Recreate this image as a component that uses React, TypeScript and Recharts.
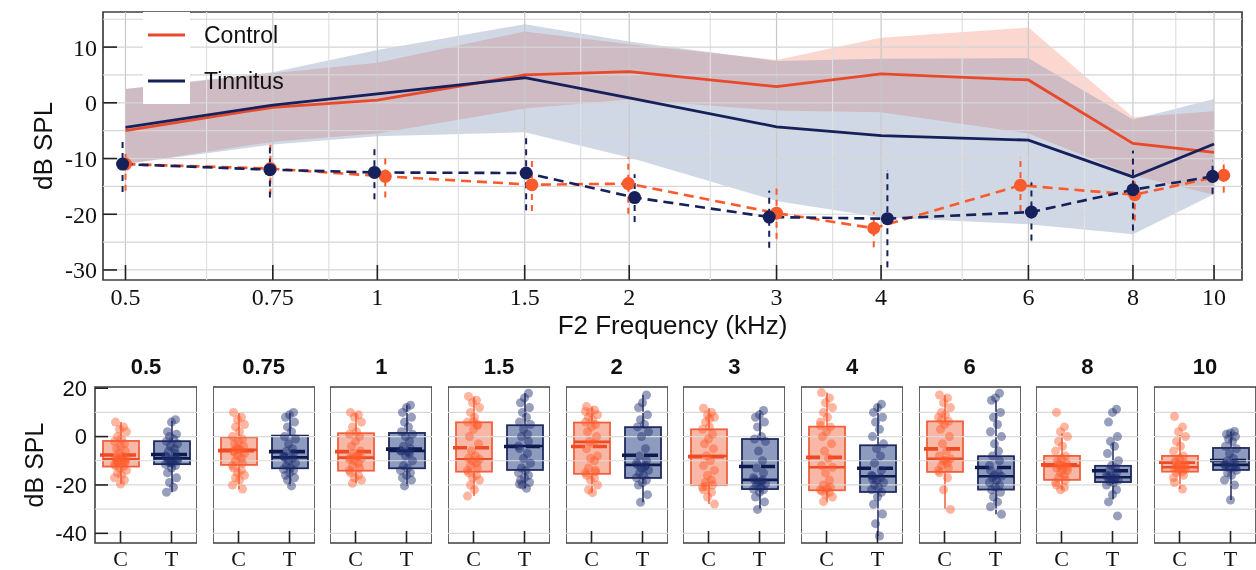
import React from 'react';
import {
  ComposedChart, Line, Area, Bar, Scatter, XAxis, YAxis, ReferenceLine, ReferenceArea, ErrorBar, Legend,
} from 'recharts';

// ---- top panel data ----
const FREQS = [0.5, 0.75, 1, 1.5, 2, 3, 4, 6, 8, 10];
const MINOR_FREQS = [0.625, 0.875, 1.25, 1.75, 2.5, 3.5, 5, 7, 9];
const TOP_GRID_Y = [15, 10, 5, 0, -5, -10, -15, -20, -25, -30];

const CTRL_MEAN = [-5, -0.8, 0.5, 5, 5.6, 2.9, 5.2, 4.1, -7.3, -8.9];
const TIN_MEAN = [-4.4, -0.4, 1.6, 4.5, 0.9, -4.3, -5.9, -6.7, -13.3, -7.4];
const CTRL_HI = [2.5, 5.3, 7.2, 12.8, 10.5, 7.7, 11.7, 13.5, -2.6, -1.5];
const CTRL_LO = [-11, -7, -5.5, -1, 0.6, -1.4, -1.7, -5.5, -13, -16.5];
const TIN_HI = [2.5, 5.5, 9.5, 14.1, 11, 7.5, 7.9, 8, -3, 0.7];
const TIN_LO = [-11, -7.5, -6, -5.3, -9.8, -17.6, -20.6, -21.8, -23.6, -16.4];

// dashed series (plotted slightly off the nominal frequency)
const CTRL_FLOOR_X = [0.5, 0.745, 1.022, 1.53, 1.995, 3.0, 3.92, 5.87, 8.04, 10.27];
const CTRL_FLOOR = [-11, -11.8, -13.2, -14.7, -14.5, -19.8, -22.5, -14.8, -16.5, -13];
const CTRL_FLOOR_LO = [-15.8, -16.5, -17, -19.4, -19.9, -24.4, -25.9, -19.4, -21.1, -16.1];
const CTRL_FLOOR_HI = [-9.2, -6.8, -9.8, -10.4, -9.8, -15.2, -19.6, -9.8, -14, -10.4];
const TIN_FLOOR_X = [0.496, 0.744, 0.992, 1.506, 2.03, 2.94, 4.07, 6.05, 8.0, 9.96];
const TIN_FLOOR = [-11, -12, -12.5, -12.6, -17, -20.5, -20.8, -19.6, -15.6, -13.2];
const TIN_FLOOR_LO = [-16, -17, -17.3, -19.3, -21.4, -26, -29.5, -24.7, -22.9, -16.3];
const TIN_FLOOR_HI = [-6.2, -7.1, -8, -6.2, -12.8, -15.8, -12.2, -14.3, -8.6, -10.4];

const SERIES = ['Control', 'Tinnitus'];

// ---- bottom panels data ----
const PANEL_TITLES = ['0.5', '0.75', '1', '1.5', '2', '3', '4', '6', '8', '10'];
const GROUPS = ['C', 'T'];

const C_Q1 = [-12.4, -11.7, -14.1, -14.5, -15.4, -20.1, -22.2, -14.6, -17.9, -14.5];
const C_MED = [-9.4, -5.5, -8.7, -9.4, -2.2, -8, -12.7, -9.2, -12.1, -12.7];
const C_Q3 = [-1.8, -0.3, 1.4, 5.9, 5.8, 3, 4.1, 6.3, -8, -8];
const C_MEAN = [-7.6, -5.8, -6.2, -4.6, -4.1, -8.3, -8.6, -5.1, -11.7, -10.6];
const C_WLO = [-19.6, -21.7, -19.3, -24.6, -23.2, -27.9, -26.9, -30.1, -22, -21.7];
const C_WHI = [6, 10, 10, 16.6, 12.4, 11.7, 18.2, 17.2, 1.4, 0.7];

const T_Q1 = [-11.4, -13.1, -13.1, -13.8, -17.1, -21.7, -22.9, -21.9, -18.8, -13.8];
const T_MED = [-9, -8.6, -5.9, -3.9, -11.7, -17.9, -16.4, -16.4, -16.8, -11.7];
const T_Q3 = [-1.9, 0.4, 1.5, 4.7, 3.9, -1, -3.6, -8.1, -12.1, -4.7];
const T_MEAN = [-7.4, -6.2, -5.2, -4.1, -7.7, -12.4, -13.1, -12.8, -14.1, -9.9];
const T_WLO = [-23, -20.4, -20.4, -21.4, -27.2, -30.1, -41.1, -32.1, -26, -26.2];
const T_WHI = [6.5, 10, 13, 17.9, 17.2, 10.8, 13.4, 15, -2.8, 2.1];

const C_POINTS = [
  [6, 4, 3, 2, 0, -1, -2, -3, -4, -5, -6, -7, -8, -8.5, -9, -9.4, -10, -10.5, -11, -11.5, -12, -12.5, -13, -14, -15, -16, -17, -18, -19.6, -9.8, -10.2, -8.8],
  [10, 8, 7, 5, 4, 2, 0, -1, -2, -3, -4, -5, -5.5, -6, -7, -8, -9, -10, -11, -12, -13, -14, -15, -16, -17, -18, -20, -21.7, -5.2, -6.4],
  [10, 9, 8, 6, 4, 2, 1, 0, -2, -4, -6, -7, -8, -8.7, -9, -10, -11, -12, -13, -14, -15, -16, -17, -18, -19.3, -8.2, -9.4],
  [16.6, 15, 14, 12, 10, 8, 6, 5, 3, 0, -3, -6, -8, -9, -9.4, -10, -11, -12, -13, -14, -15, -16, -17, -18, -20, -22, -24.6, 4.6, 6.2],
  [12.4, 11, 10, 9, 8, 7, 6, 5, 4, 2, 0, -2, -3, -5, -8, -9, -10, -13, -14, -15, -16, -17, -18, -20, -22, -23.2, 10.4, -14.6],
  [11.7, 10, 9, 8, 6, 4, 3, 1, -1, -3, -5, -8, -10, -12, -14, -16, -18, -19, -20, -21, -22, -23, -25, -27.9, -20.6, 7.4],
  [18.2, 16, 14, 12, 10, 8, 6, 4, 2, 0, -3, -6, -9, -12, -12.7, -15, -18, -20, -21, -22, -22.5, -23, -24, -25, -26.9, -21.4, 4.6],
  [17.2, 16, 14, 12, 10, 9, 8, 6.3, 5, 3, 0, -3, -6, -8, -9.2, -10, -11, -12, -13, -14, -15, -17, -22, -30.1, 6.8, -9.8],
  [10, 4, 2, 0, -2, -4, -6, -8, -9, -10, -11, -12, -12.1, -13, -14, -15, -16, -17, -18, -19, -20, -21, -22, -12.6, -11.4, -13.6],
  [8.3, 4, 2, 0, -2, -4, -6, -8, -9, -10, -11, -12, -12.7, -13, -13.5, -14, -14.5, -15, -16, -17, -19, -21.7, -11.6, -12.2, -10.6],
];
const T_POINTS = [
  [7, 6, 2, 1, 0, -1, -2, -3, -4, -5, -6, -7, -8, -8.5, -9, -9.5, -10, -10.5, -11, -11.5, -12, -13, -15, -17, -19, -21, -23, -9.2, -10.8],
  [10, 9, 8, 6, 4, 2, 0, -1, -3, -5, -6, -7, -8, -8.6, -9, -10, -11, -12, -13, -13.5, -14, -15, -16, -17, -18, -20.4, -8.2],
  [13, 12, 10, 8, 6, 4, 2, 1, 0, -2, -4, -5, -5.9, -6, -7, -8, -10, -12, -13, -14, -15, -16, -17, -18, -20.4, -6.4],
  [17.9, 16, 14, 12, 10, 8, 6, 5, 3, 1, 0, -2, -3.9, -5, -7, -9, -11, -13, -14, -15, -16, -17, -18, -19, -20, -21.4, -19.6],
  [17.2, 14, 12, 9, 7, 5, 4, 2, 0, -5, -8, -10, -11, -11.7, -12, -13, -14, -15, -16, -17, -18, -19, -20, -24, -27.2, -12.6],
  [10.8, 9, 8, 6, 4, 0, -1, -2, -6, -10, -13, -15, -17, -17.9, -18, -19, -19.5, -20, -21, -21.7, -22, -23, -25, -27, -30.1, -18.6],
  [13.4, 12, 10, 8, 6, 3, 0, -3, -5, -8, -11, -14, -16, -16.4, -17, -18, -19, -20, -21, -22, -23, -25, -28, -32, -36, -41.1, -17.6],
  [17.9, 16, 15, 10, 8, 5, 2, 0, -3, -6, -8, -10, -12, -14, -15, -16, -16.4, -17, -18, -19, -20, -21, -22, -23, -25, -27, -29, -32.1],
  [11.3, 10, 6, 0, -2, -4, -7, -10, -12, -13, -14, -15, -16, -16.8, -17, -17.5, -18, -18.5, -19, -20, -22, -24, -27, -32.8, -16.2, -17.8],
  [2.1, 1.5, 1, 0, -1, -2, -4, -5, -7, -9, -10, -11, -11.7, -12, -12.5, -13, -14, -15, -16, -18, -20, -26.2, -11.2, -12.8],
];

const PANEL_GRID_Y = [10, 0, -10, -20, -30, -40];

// ---- styles ----
const RED = '#e8492b';
const RED_DOT = '#fb5a2c';
const NAVY = '#16205a';
const SANS = 'Liberation Sans, Arial, sans-serif';
const SERIF = 'Liberation Serif, Times New Roman, serif';
const JITTER = [-5, 3, -1, 6, -3, 1, -6, 4, 0, -4, 5, -2, 2, -5, 6, -1, 3, -3, 4, -6];
const GROUP_STYLE: Record<string, any> = {
  C: { fill: '#f9b7a6', stroke: '#f0603e', line: '#ee4a24', dot: '#ff5a2a' },
  T: { fill: '#8d9bbf', stroke: '#1f2a5e', line: '#0e1a4e', dot: '#1b2a6b' },
};

const topData = FREQS.map((f, i) => ({
  f,
  ctrl: CTRL_MEAN[i],
  tin: TIN_MEAN[i],
  ctrlBand: [CTRL_LO[i], CTRL_HI[i]],
  tinBand: [TIN_LO[i], TIN_HI[i]],
}));
const ctrlFloor = CTRL_FLOOR_X.map((f, i) => ({
  f, v: CTRL_FLOOR[i], err: [CTRL_FLOOR[i] - CTRL_FLOOR_LO[i], CTRL_FLOOR_HI[i] - CTRL_FLOOR[i]],
}));
const tinFloor = TIN_FLOOR_X.map((f, i) => ({
  f, v: TIN_FLOOR[i], err: [TIN_FLOOR[i] - TIN_FLOOR_LO[i], TIN_FLOOR_HI[i] - TIN_FLOOR[i]],
}));

function TopLegend() {
  return (
    <div style={{ position: 'relative', width: 180, height: 92 }}>
      <div style={{ position: 'absolute', left: 0, top: 0, width: 47, height: 92, background: '#fff' }} />
      {SERIES.map((name, i) => (
        <div key={name} style={{ position: 'absolute', left: 0, top: 23 + i * 46 - 14, height: 28, display: 'flex', alignItems: 'center' }}>
          <svg width={47} height={28}>
            <line x1={5} x2={42} y1={14} y2={14} stroke={i === 0 ? RED : NAVY} strokeWidth={3} />
          </svg>
          <span style={{ marginLeft: 14, fontFamily: SANS, fontSize: 23, color: '#111' }}>{name}</span>
        </div>
      ))}
    </div>
  );
}

function TopChart() {
  return (
    <ComposedChart width={1256} height={345} data={topData} margin={{ top: 12, right: 14, bottom: 0, left: 0 }}>
      {MINOR_FREQS.map((v) => (
        <ReferenceLine key={'vm' + v} x={v} stroke="#e0e0e0" strokeWidth={1.2} />
      ))}
      {FREQS.map((v) => (
        <ReferenceLine key={'vM' + v} x={v} stroke="#c8c8c8" strokeWidth={1.2} />
      ))}
      {TOP_GRID_Y.map((v) => (
        <ReferenceLine key={'h' + v} y={v} stroke="#d6d6d6" strokeWidth={1.2} />
      ))}
      <XAxis
        dataKey="f" type="number" scale="log" domain={[0.47, 10.8]} allowDataOverflow ticks={FREQS}
        height={65} axisLine={false} tickSize={-15} tickMargin={23}
        tickLine={{ stroke: '#222', strokeWidth: 1.6 }}
        tick={{ fill: '#111', fontSize: 24, fontFamily: SERIF }}
        tickFormatter={(v) => String(v)}
        label={{ value: 'F2 Frequency (kHz)', position: 'insideBottom', offset: 11, fill: '#111', fontSize: 26, fontFamily: SANS }}
      />
      <YAxis
        type="number" domain={[-31.8, 16.3]} allowDataOverflow ticks={[10, 0, -10, -20, -30]} width={103}
        axisLine={false} tickSize={-14} tickMargin={20}
        tickLine={{ stroke: '#222', strokeWidth: 1.6 }}
        tick={{ fill: '#111', fontSize: 24, fontFamily: SERIF }}
        label={() => (
          <text x={43} y={146} transform="rotate(-90 43 146)" textAnchor="middle" dominantBaseline="central"
            fontFamily={SANS} fontSize={26} fill="#111">dB SPL</text>
        )}
      />
      <Area dataKey="ctrlBand" type="linear" stroke="none" fill="#f4846c" fillOpacity={0.32} isAnimationActive={false} />
      <Area dataKey="tinBand" type="linear" stroke="none" fill="#5a73a0" fillOpacity={0.28}
        style={{ mixBlendMode: 'multiply' }} isAnimationActive={false} />
      <Line dataKey="ctrl" type="linear" stroke={RED} strokeWidth={2.8} dot={false} isAnimationActive={false} />
      <Line dataKey="tin" type="linear" stroke={NAVY} strokeWidth={2.8} dot={false} isAnimationActive={false} />
      <Line
        data={ctrlFloor} dataKey="v" type="linear" stroke={RED_DOT} strokeWidth={2.6} strokeDasharray="10 6"
        dot={{ r: 6.5, fill: RED_DOT, stroke: 'none' }} isAnimationActive={false}
      >
        <ErrorBar dataKey="err" direction="y" width={0} stroke={RED_DOT} strokeWidth={2} strokeDasharray="6 5" />
      </Line>
      <Line
        data={tinFloor} dataKey="v" type="linear" stroke={NAVY} strokeWidth={2.6} strokeDasharray="10 6"
        dot={{ r: 6.5, fill: NAVY, stroke: 'none' }} isAnimationActive={false}
      >
        <ErrorBar dataKey="err" direction="y" width={0} stroke={NAVY} strokeWidth={2} strokeDasharray="6 5" />
      </Line>
      <ReferenceArea x1={0.47} x2={10.8} y1={-31.8} y2={16.3} fill="none" stroke="#3f3f3f" strokeWidth={1.7} ifOverflow="visible" />
      <Legend
        layout="horizontal" verticalAlign="middle" align="center"
        content={() => <TopLegend />}
        wrapperStyle={{ left: 143, top: 12, width: 180, height: 92 }}
      />
    </ComposedChart>
  );
}

function BoxShape(props: any) {
  const { x, y, width, height, payload } = props;
  const st = GROUP_STYLE[payload.g];
  const top = Math.min(y, y + height);
  const h = Math.abs(height);
  const k = h / (payload.q3 - payload.q1);
  const py = (v: number) => top + (payload.q3 - v) * k;
  const cx = x + width / 2;
  return (
    <g>
      <line x1={cx} x2={cx} y1={py(payload.whi)} y2={top} stroke={st.stroke} strokeWidth={1.5} />
      <line x1={cx} x2={cx} y1={top + h} y2={py(payload.wlo)} stroke={st.stroke} strokeWidth={1.5} />
      <rect x={x} y={top} width={width} height={h} fill={st.fill} stroke={st.stroke} strokeWidth={1.8} />
      <line x1={x} x2={x + width} y1={py(payload.med)} y2={py(payload.med)} stroke={st.line} strokeWidth={2.6} />
      <line x1={x - 3} x2={x + width - 3} y1={py(payload.mean)} y2={py(payload.mean)} stroke={st.line}
        strokeWidth={3.6} strokeDasharray="14 8" />
    </g>
  );
}

const makeDot = (g: string) => (props: any) => {
  const { cx, cy, payload } = props;
  if (cx == null || cy == null) return <g />;
  return <circle cx={cx + JITTER[payload.i % JITTER.length]} cy={cy} r={4.5} fill={GROUP_STYLE[g].dot} fillOpacity={0.45} />;
};

function Panel({ idx }: { idx: number }) {
  const first = idx === 0;
  const plotLeft = 95 + idx * 117.67;
  const left = first ? 0 : plotLeft;
  const yAxisW = first ? 95 : 0;
  const boxData = [
    { g: 'C', q1: C_Q1[idx], q3: C_Q3[idx], med: C_MED[idx], mean: C_MEAN[idx], wlo: C_WLO[idx], whi: C_WHI[idx] },
    { g: 'T', q1: T_Q1[idx], q3: T_Q3[idx], med: T_MED[idx], mean: T_MEAN[idx], wlo: T_WLO[idx], whi: T_WHI[idx] },
  ];
  const cPts = C_POINTS[idx].map((v, i) => ({ g: 'C', v, i }));
  const tPts = T_POINTS[idx].map((v, i) => ({ g: 'T', v, i: i + 7 }));
  return (
    <div style={{ position: 'absolute', left, top: 340 }}>
      <div style={{
        position: 'absolute', left: yAxisW, top: 13, width: 102, textAlign: 'center', lineHeight: '28px',
        fontFamily: SANS, fontWeight: 'bold', fontSize: 22, color: '#111',
      }}>{PANEL_TITLES[idx]}</div>
      <ComposedChart width={yAxisW + 102} height={230} data={boxData} margin={{ top: 47, right: 0, bottom: 0, left: 0 }}>
        {PANEL_GRID_Y.map((v) => (
          <ReferenceLine key={'g' + v} y={v} stroke="#dadada" strokeWidth={1.2} />
        ))}
        <XAxis
          dataKey="g" type="category" allowDuplicatedCategory={false} ticks={GROUPS} height={27}
          axisLine={false} tickSize={-12} tickMargin={19}
          tickLine={{ stroke: '#222', strokeWidth: 1.6 }}
          tick={{ fill: '#111', fontSize: 22, fontFamily: SERIF }}
        />
        <YAxis
          type="number" hide={!first} width={yAxisW} domain={[-44, 20.5]} allowDataOverflow ticks={[20, 0, -20, -40]}
          axisLine={false} tickSize={-13} tickMargin={21}
          tickLine={{ stroke: '#222', strokeWidth: 1.6 }}
          tick={{ fill: '#111', fontSize: 22, fontFamily: SANS }}
          label={() => (
            <text x={34} y={125} transform="rotate(-90 34 125)" textAnchor="middle" dominantBaseline="central"
              fontFamily={SANS} fontSize={25} fill="#111">dB SPL</text>
          )}
        />
        <Bar dataKey={(d: any) => [d.q1, d.q3]} barSize={36} shape={BoxShape} isAnimationActive={false} />
        <Scatter data={cPts} dataKey="v" shape={makeDot('C')} isAnimationActive={false} />
        <Scatter data={tPts} dataKey="v" shape={makeDot('T')} isAnimationActive={false} />
        <ReferenceArea y1={-44} y2={20.5} fill="none" stroke="#3f3f3f" strokeWidth={1.6} ifOverflow="visible" />
      </ComposedChart>
    </div>
  );
}

export default function App() {
  return (
    <div style={{ position: 'absolute', left: 0, top: 0, width: 1256, height: 570, background: '#fff', overflow: 'hidden' }}>
      <div style={{ position: 'absolute', left: 0, top: 0 }}>
        <TopChart />
      </div>
      {PANEL_TITLES.map((_, i) => (
        <Panel key={i} idx={i} />
      ))}
    </div>
  );
}
